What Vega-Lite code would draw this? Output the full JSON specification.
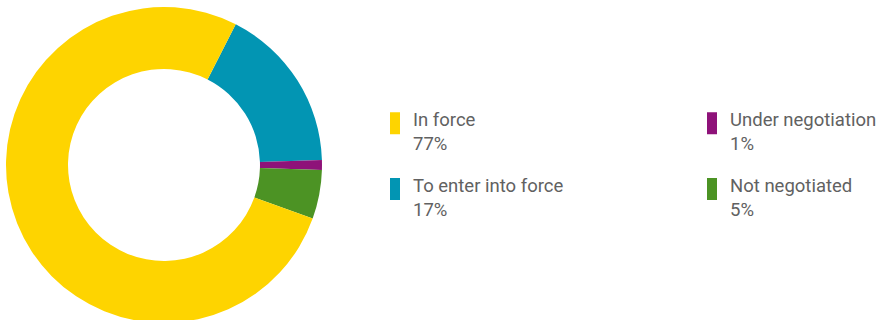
{
  "$schema": "https://vega.github.io/schema/vega-lite/v6.json",
  "width": 328,
  "height": 330,
  "autosize": {"type": "none"},
  "padding": {"left": 0, "top": 0, "right": 557, "bottom": 0},
  "background": "white",
  "data": {
    "values": [
      {"status": "To enter into force", "share": 17, "slice": 1},
      {"status": "Under negotiation", "share": 1, "slice": 2},
      {"status": "Not negotiated", "share": 5, "slice": 3},
      {"status": "In force", "share": 77, "slice": 4}
    ]
  },
  "transform": [
    {"calculate": "datum.status + '|' + datum.share + '%'", "as": "entry"}
  ],
  "mark": {"type": "arc", "innerRadius": 96, "outerRadius": 158, "stroke": null},
  "encoding": {
    "theta": {
      "field": "share",
      "type": "quantitative",
      "stack": true,
      "scale": {"range": [0.4712, 6.7544]}
    },
    "order": {"field": "slice", "type": "quantitative"},
    "color": {
      "field": "entry",
      "type": "nominal",
      "scale": {
        "domain": ["In force|77%", "To enter into force|17%", "Under negotiation|1%", "Not negotiated|5%"],
        "range": ["#FED400", "#0295B3", "#8E1279", "#4C9324"]
      },
      "legend": {
        "title": null,
        "orient": "none",
        "legendX": 384,
        "legendY": 112,
        "columns": 2,
        "columnPadding": 137,
        "rowPadding": 23,
        "symbolType": "M-0.4545,-1H0.4545V1H-0.4545Z",
        "symbolSize": 484,
        "symbolStrokeWidth": 0,
        "symbolOpacity": 1,
        "labelExpr": "split(datum.label, '|')",
        "labelFont": "Roboto",
        "labelFontSize": 18.5,
        "labelColor": "#616161",
        "labelBaseline": "alphabetic",
        "labelOffset": 7,
        "labelLimit": 300
      }
    }
  },
  "config": {
    "view": {"stroke": null},
    "style": {"guide-label": {"lineHeight": 24, "dy": 3}}
  }
}
